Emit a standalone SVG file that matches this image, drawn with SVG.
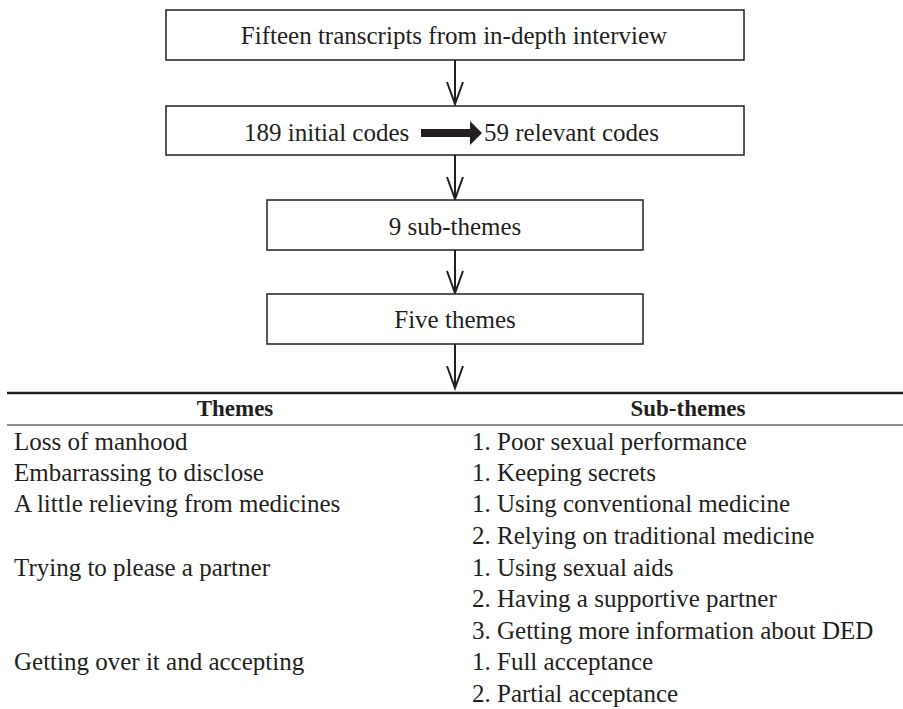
<svg xmlns="http://www.w3.org/2000/svg" width="903" height="709" viewBox="0 0 903 709">
<defs>
<style>
.box{fill:#fff;stroke:#231f20;stroke-width:1.5}
.t{font-family:'Liberation Serif',Tinos,'Nimbus Roman','DejaVu Serif',serif;font-size:25px;fill:#231f20}
.c{text-anchor:middle}
.h{font-weight:bold;font-size:23px}
.conn{stroke:#231f20;stroke-width:2;fill:none}
.head{stroke:#231f20;stroke-width:2;fill:none}
</style>
</defs>
<rect width="903" height="709" fill="#fff"/>
<g id="connectors">
<line class="conn" x1="455" y1="60" x2="455" y2="104"/>
<path class="head" d="M447,82 L455,104 L463,82"/>
<line class="conn" x1="455" y1="155" x2="455" y2="199"/>
<path class="head" d="M447,177 L455,199 L463,177"/>
<line class="conn" x1="455" y1="250" x2="455" y2="293"/>
<path class="head" d="M447,271 L455,293 L463,271"/>
<line class="conn" x1="455" y1="344" x2="455" y2="388"/>
<path class="head" d="M447,366 L455,388 L463,366"/>
</g>
<g id="n1">
<rect class="box" x="166" y="10" width="578" height="50"/>
<text class="t c" x="454" y="44">Fifteen transcripts from in-depth interview</text>
</g>
<g id="n2">
<rect class="box" x="166" y="106" width="578" height="49"/>
<text class="t" x="244" y="141">189 initial codes</text>
<path d="M421,129 H470 V121 L482,133 L470,145 V137 H421 Z" fill="#231f20"/>
<text class="t" x="484" y="141">59 relevant codes</text>
</g>
<g id="n3">
<rect class="box" x="267" y="200" width="376" height="50"/>
<text class="t c" x="455" y="235">9 sub-themes</text>
</g>
<g id="n4">
<rect class="box" x="267" y="294" width="376" height="50"/>
<text class="t c" x="455" y="328">Five themes</text>
</g>
<g id="table">
<line x1="7" y1="393" x2="903" y2="393" stroke="#231f20" stroke-width="2.5"/>
<line x1="7" y1="425" x2="903" y2="425" stroke="#231f20" stroke-width="1"/>
<text class="t h c" x="235" y="416">Themes</text>
<text class="t h c" x="688" y="416">Sub-themes</text>
<text class="t" x="14" y="450">Loss of manhood</text>
<text class="t" x="14" y="481">Embarrassing to disclose</text>
<text class="t" x="14" y="512">A little relieving from medicines</text>
<text class="t" x="14" y="576">Trying to please a partner</text>
<text class="t" x="14" y="670">Getting over it and accepting</text>
<text class="t" x="472" y="450">1. Poor sexual performance</text>
<text class="t" x="472" y="481">1. Keeping secrets</text>
<text class="t" x="472" y="512">1. Using conventional medicine</text>
<text class="t" x="472" y="544">2. Relying on traditional medicine</text>
<text class="t" x="472" y="576">1. Using sexual aids</text>
<text class="t" x="472" y="607">2. Having a supportive partner</text>
<text class="t" x="472" y="639">3. Getting more information about DED</text>
<text class="t" x="472" y="670">1. Full acceptance</text>
<text class="t" x="472" y="702">2. Partial acceptance</text>
</g>
</svg>
